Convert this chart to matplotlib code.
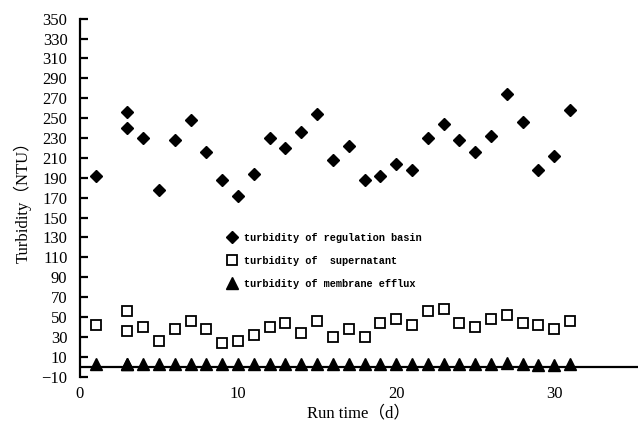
import matplotlib.pyplot as plt

# run days (day 3 was sampled twice)
days = [1, 3, 3, 4, 5, 6, 7, 8, 9, 10, 11, 12, 13, 14, 15, 16,
        17, 18, 19, 20, 21, 22, 23, 24, 25, 26, 27, 28, 29, 30, 31]

basin = [192, 256, 240, 230, 178, 228, 248, 216, 188, 172, 194, 230, 220, 236, 254, 208,
         222, 188, 192, 204, 198, 230, 244, 228, 216, 232, 274, 246, 198, 212, 258]

supernatant = [42, 56, 36, 40, 26, 38, 46, 38, 24, 26, 32, 40, 44, 34, 46, 30,
               38, 30, 44, 48, 42, 56, 58, 44, 40, 48, 52, 44, 42, 38, 46]

efflux = [2.5, 2.5, 2.5, 2.5, 2.5, 2.5, 2.5, 2.5, 2.5, 2.5, 2.5, 2.5, 2.5, 2.5, 3, 2.5,
          2.5, 2.5, 2.5, 2.5, 2.5, 2.5, 2.5, 2.5, 2.5, 2.5, 3.5, 2.5, 1.5, 2, 2.5]

yticks = list(range(-10, 351, 20))
xticks = [0, 10, 20, 30]

serif = ['Liberation Serif', 'Noto Sans CJK SC']

fig = plt.figure(figsize=(6.43, 4.23), dpi=100)
ax = fig.add_axes([0.1244, 0.1094, 0.8678, 0.8464])

ax.plot(days, basin, linestyle='none', marker='D', markersize=6.5,
        color='black', label='turbidity of regulation basin')
ax.plot(days, supernatant, linestyle='none', marker='s', markersize=7.5,
        markerfacecolor='white', markeredgecolor='black', markeredgewidth=1.3,
        label='turbidity of  supernatant')
ax.plot(days, efflux, linestyle='none', marker='^', markersize=8.5,
        color='black', label='turbidity of membrane efflux')

ax.axhline(0, color='black', linewidth=1.6, zorder=1)

ax.set_xlim(0, 35.3)
ax.set_ylim(-10, 350)
ax.set_yticks(yticks)
ax.set_xticks(xticks)

for side in ['top', 'right', 'bottom']:
    ax.spines[side].set_visible(False)
ax.spines['left'].set_linewidth(1.6)

ax.tick_params(axis='y', direction='in', length=6, width=1.6, pad=9, labelsize=12)
ax.tick_params(axis='x', length=0, pad=7, labelsize=12)
for lab in ax.get_xticklabels() + ax.get_yticklabels():
    lab.set_family('Liberation Serif')

ax.set_ylabel('Turbidity（NTU）', family=serif, fontsize=12, labelpad=7)
ax.set_xlabel('Run time（d）', family=serif, fontsize=12, labelpad=2)

leg = ax.legend(loc='upper left', bbox_to_anchor=(228 / 643, 1 - 233 / 423),
                bbox_transform=fig.transFigure, frameon=False,
                handlelength=0.8, handletextpad=0.8, labelspacing=1.25,
                borderpad=0, borderaxespad=0,
                prop={'family': 'Liberation Mono', 'size': 7.4, 'weight': 'bold'})

fig.savefig('out.png', dpi=100)
